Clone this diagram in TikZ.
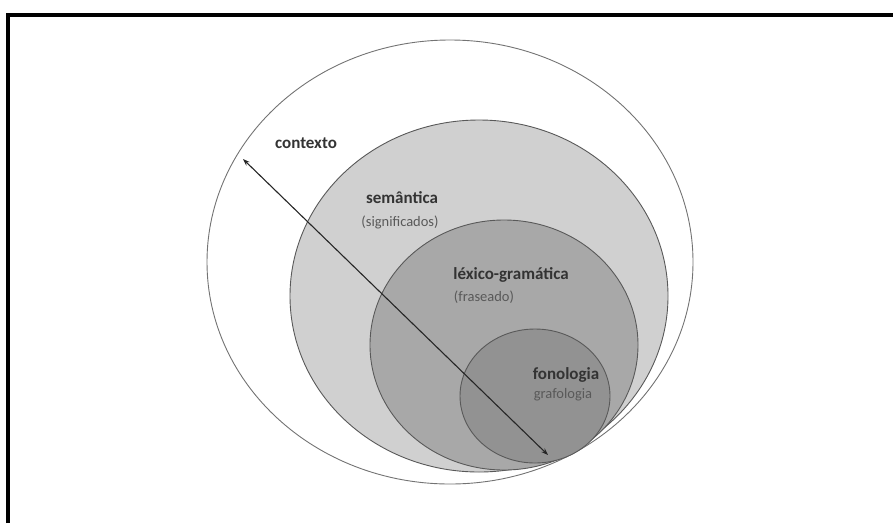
\documentclass[tikz,border=0pt]{standalone}
\usepackage{fontspec}
\setmainfont{Carlito}
\usetikzlibrary{shapes.geometric, arrows.meta, positioning}

\definecolor{semgray}{RGB}{208,208,208}
\definecolor{lexgray}{RGB}{168,168,168}
\definecolor{fongray}{RGB}{146,146,146}

\begin{document}
\begin{tikzpicture}[
  x=1pt, y=-1pt,
  ring/.style={ellipse, draw=black!65, line width=0.9pt, inner sep=0pt},
  title/.style={font=\fontsize{17}{20}\selectfont\bfseries, text=black!80},
  sub/.style={font=\fontsize{14.5}{17}\selectfont, text=black!65},
  >={Stealth[length=7pt, width=5pt]}
]
\useasboundingbox (0,0) rectangle (893,523);

\draw[line width=4pt] (8,523) -- (8,15) -- (893,15);

\node[ring, draw=black!55, minimum width=486pt, minimum height=444pt] (ctx) at (450,262) {};
\node[ring, fill=semgray, minimum width=378pt, minimum height=352pt] (sem) at (479,296) {};
\node[ring, fill=lexgray, minimum width=268pt, minimum height=250pt] (lex) at (504,345) {};
\node[ring, fill=fongray, minimum width=150pt, minimum height=134pt] (fon) at (535,396) {};

\node[title] (ctxlbl) at (306,143) {contexto};
\node[title] (semlbl) at (402,198) {semântica};
\node[sub] (semsub) at (400,222) {(significados)};
\node[title] (lexlbl) at (511,275) {léxico-gramática};
\node[sub] (lexsub) at (484,297) {(fraseado)};
\node[title] (fonlbl) at (566,375) {fonologia};
\node[sub] (fonsub) at (563,395) {grafologia};

\coordinate (top) at (243,159);
\coordinate (bot) at (548,455);
\draw[<->, line width=1.1pt, black!85] (top) -- (bot);

\end{tikzpicture}
\end{document}
